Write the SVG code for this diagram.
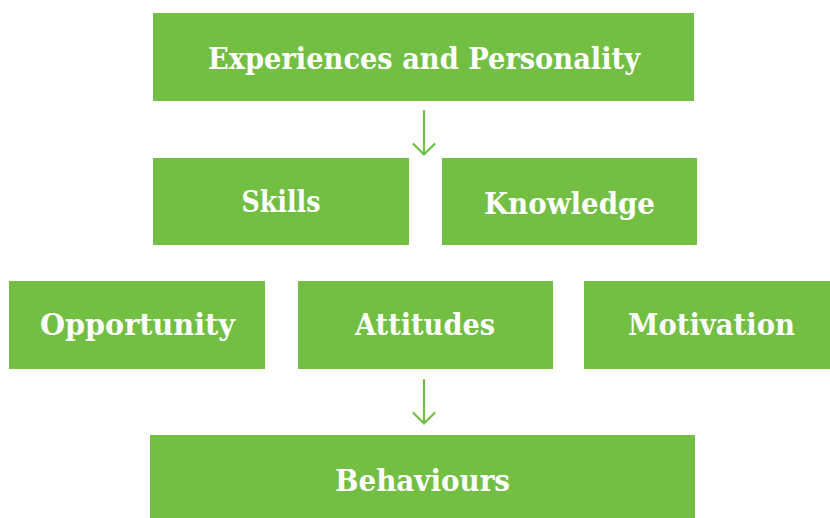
<svg xmlns="http://www.w3.org/2000/svg" width="830" height="518" viewBox="0 0 830 518">
  <style>
    .box { fill: #72bf44; }
    .lbl { fill: #ffffff; font-family: "DejaVu Serif", "Liberation Serif", serif; font-size: 29px; font-weight: bold; text-anchor: middle; }
    .arrow { fill: none; stroke: #72bf44; stroke-width: 2.2; stroke-linecap: round; stroke-linejoin: round; }
  </style>
  <rect width="830" height="518" fill="#ffffff"/>

  <g id="experiences">
    <rect class="box" x="153" y="13" width="541" height="88"/>
    <text class="lbl" x="424" y="69" textLength="432" lengthAdjust="spacingAndGlyphs">Experiences and Personality</text>
  </g>
  <g id="skills">
    <rect class="box" x="153" y="158" width="256" height="87"/>
    <text class="lbl" x="281" y="212" font-size="28" textLength="79" lengthAdjust="spacingAndGlyphs">Skills</text>
  </g>
  <g id="knowledge">
    <rect class="box" x="442" y="158" width="255" height="87"/>
    <text class="lbl" x="569.5" y="214" textLength="171" lengthAdjust="spacingAndGlyphs">Knowledge</text>
  </g>
  <g id="opportunity">
    <rect class="box" x="9" y="281" width="256" height="88"/>
    <text class="lbl" x="137.5" y="335" textLength="195" lengthAdjust="spacingAndGlyphs">Opportunity</text>
  </g>
  <g id="attitudes">
    <rect class="box" x="298" y="281" width="255" height="88"/>
    <text class="lbl" x="425" y="335" textLength="140" lengthAdjust="spacingAndGlyphs">Attitudes</text>
  </g>
  <g id="motivation">
    <rect class="box" x="584" y="281" width="255" height="88"/>
    <text class="lbl" x="711.5" y="335" textLength="167" lengthAdjust="spacingAndGlyphs">Motivation</text>
  </g>
  <g id="behaviours">
    <rect class="box" x="150" y="435" width="545" height="83"/>
    <text class="lbl" x="422.5" y="491" textLength="175" lengthAdjust="spacingAndGlyphs">Behaviours</text>
  </g>

  <g id="connectors">
    <path class="arrow" d="M424 111 V154 M413.5 144 L424 154.5 L434.5 144"/>
    <path class="arrow" d="M424 380 V423 M413.5 413 L424 423.5 L434.5 413"/>
  </g>
</svg>
